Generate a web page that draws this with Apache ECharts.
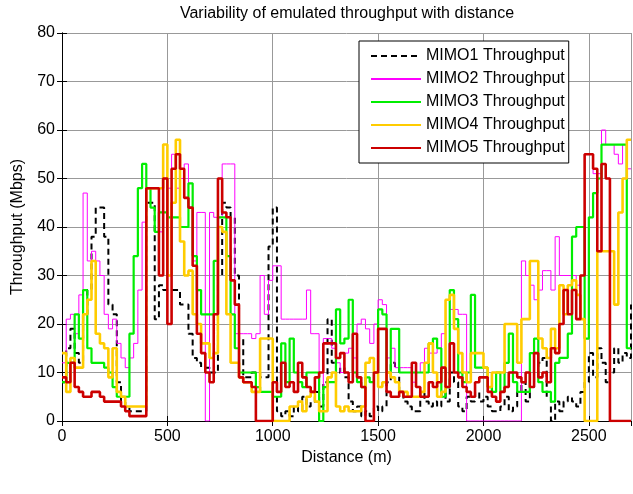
<!DOCTYPE html>
<html>
<head>
<meta charset="utf-8">
<script src="https://cdn.jsdelivr.net/npm/echarts@6/dist/echarts.min.js"></script>
<style>
html,body{margin:0;padding:0;background:#fff;}
#chart{width:633px;height:494px;}
</style>
</head>
<body>
<div id="chart"></div>
<script>
// Distance samples (m), every 20 m
var distance = [];
for (var d = 0; d <= 2700; d += 20) distance.push(d);

var seriesNames = ['MIMO1 Throughput', 'MIMO2 Throughput', 'MIMO3 Throughput', 'MIMO4 Throughput', 'MIMO5 Throughput'];
var xTicks = [0, 500, 1000, 1500, 2000, 2500];
var yTicks = [0, 10, 20, 30, 40, 50, 60, 70, 80];

var mimo1 = [
8,15,19,14,12, 22,27,38,44,44, 38,24,22,8,4, 3,2,2,2,2,
45,45,21,28,27, 27,27,27,24,24, 18,13,12,11,11, 10,10,30,45,44,
42,30,17,9,9, 10,10,9,9,36, 44,2,1,2,1, 3,2,5,3,4,
6,3,8,21,12, 10,11,9,4,2, 3,1,2,1,3, 2,3,8,12,11,
6,4,3,2,2, 6,4,3,4,3, 6,4,10,8,3, 2,5,4,6,4,
5,3,2,2,3, 5,2,3,6,8, 4,7,9,12,13, 5,0,4,2,4,
5,4,3,6,8, 14,9,15,12,8, 10,15,12,14,13, 24];

var mimo2 = [
12,21,22,18,26, 47,33,35,33,30, 22,19,21,16,13, 11,13,16,27,41,
48,48,48,39,50, 48,55,48,50,53, 49,33,43,43,0, 43,42,42,53,53,
53,18,18,18,18, 17,18,30,22,29, 32,32,21,21,21, 21,21,21,27,18,
18,0,17,17,15, 12,10,14,15,13, 20,21,19,16,20, 25,24,13,15,11,
11,11,11,8,10, 12,15,14,14,15, 18,25,23,23,22, 22,0,0,0,0,
0,0,0,0,0, 0,0,0,0,33, 30,28,25,27,31, 31,27,38,30,30,
30,30,28,30,55, 55,51,51,60,57, 57,55,53,57,52, 52];

var mimo3 = [
8,12,12,22,17, 27,15,12,12,12, 11,10,7,5,5, 5,18,34,48,53,
48,44,39,43,43, 42,42,42,40,40, 49,34,27,22,22, 22,33,42,42,34,
22,15,10,10,10, 10,7,6,6,6, 5,5,16,8,17, 10,8,7,10,10,
10,0,7,8,8, 23,16,17,25,10, 8,7,9,8,10, 23,22,10,19,19,
10,10,10,10,10, 10,10,16,17,15, 5,7,27,21,10, 8,10,26,11,11,
11,7,6,10,6, 12,18,8,6,6, 6,14,17,8,6, 6,4,12,13,13,
18,38,40,40,17, 42,47,50,57,57, 57,57,57,57,15, 15];

var mimo4 = [
14,6,13,11,11, 22,25,33,18,16, 15,9,15,6,5, 3,3,3,3,3,
48,48,48,48,57, 30,45,58,37,30, 31,22,20,16,16, 13,14,40,39,22,
12,12,9,8,8, 6,6,17,17,17, 0,0,0,0,3, 3,4,2,5,6,
4,2,2,9,10, 3,2,3,2,2, 2,3,12,13,10, 7,8,10,9,8,
6,6,5,5,5, 6,12,16,10,5, 6,25,26,19,14, 10,8,14,14,14,
11,7,10,10,10, 20,20,20,12,21, 21,33,33,17,15, 13,19,15,28,22,
28,29,26,21,0, 0,0,35,35,35, 35,24,43,50,58, 58];

var mimo5 = [
9,8,12,7,6, 5,5,6,6,5, 4,4,4,4,3, 2,1,1,1,1,
48,48,48,30,50, 20,52,55,52,46, 44,32,18,14,10, 8,22,50,43,42,
29,24,9,8,8, 7,0,0,0,0, 8,6,12,7,8, 6,12,9,7,6,
9,10,16,16,16, 13,14,10,8,18, 9,7,0,0,10, 19,19,6,5,5,
6,5,5,12,7, 5,5,8,7,8, 11,7,16,10,9, 7,6,5,8,9,
9,6,5,4,6, 7,10,10,9,8, 10,7,14,9,10, 8,15,14,20,27,
22,27,21,30,55, 55,52,35,53,50, 0,0,0,0,0, 0];

var values = [mimo1, mimo2, mimo3, mimo4, mimo5];
var colors = ['#000000', '#ff00ff', '#00ee00', '#ffcc00', '#cc0000'];
var widths = [2, 1, 2.2, 2.6, 2.6];
var types = [[6, 4], 'solid', 'solid', 'solid', 'solid'];

var FONT = '"Liberation Sans", Arial, sans-serif';

var series = values.map(function (arr, k) {
  return {
    name: seriesNames[k],
    type: 'line',
    step: 'end',
    symbol: 'none',
    showSymbol: false,
    xAxisIndex: 0,
    yAxisIndex: 0,
    data: distance.map(function (dd, i) { return [dd, arr[i]]; }),
    lineStyle: { color: colors[k], width: widths[k], type: types[k] },
    itemStyle: { color: colors[k] },
    z: 2 + k
  };
});

var chart = echarts.init(document.getElementById('chart'), null, { renderer: 'canvas' });
chart.setOption({
  animation: false,
  backgroundColor: '#ffffff',
  title: {
    text: 'Variability of emulated throughput with distance',
    left: 347, top: 6, textAlign: 'center', padding: 0,
    textStyle: { fontFamily: FONT, fontSize: 16, fontWeight: 'normal', color: '#000' }
  },
  legend: {
    orient: 'vertical',
    left: 359, top: 41,
    padding: [7, 4, 7, 11],
    itemWidth: 50, itemHeight: 14, itemGap: 7,
    backgroundColor: '#ffffff', borderColor: '#000', borderWidth: 1,
    itemStyle: { opacity: 0 },
    textStyle: { fontFamily: FONT, fontSize: 16, color: '#000' },
    data: seriesNames
  },
  grid: { left: 62, right: 2, top: 33, bottom: 73, containLabel: false },
  xAxis: [{
    type: 'value', min: xTicks[0], max: 2700, interval: xTicks[1] - xTicks[0],
    name: 'Distance (m)', nameLocation: 'middle', nameGap: 29,
    nameTextStyle: { fontFamily: FONT, fontSize: 16, color: '#000' },
    axisLine: { show: true, lineStyle: { color: '#000', width: 1 } },
    axisTick: { show: true, inside: true, length: 5, lineStyle: { color: '#000' } },
    axisLabel: { fontFamily: FONT, fontSize: 16, color: '#000', margin: 8, showMaxLabel: false,
      formatter: function (v) { return String(v); } },
    splitLine: { show: true, lineStyle: { color: '#999', width: 1 } }
  }, {
    type: 'value', position: 'top', min: 0, max: 2700, interval: 500,
    axisLine: { show: true, lineStyle: { color: '#000', width: 1 } },
    axisTick: { show: true, inside: true, length: 5, lineStyle: { color: '#000' } },
    axisLabel: { show: false }, splitLine: { show: false }
  }],
  yAxis: [{
    type: 'value', min: yTicks[0], max: yTicks[yTicks.length - 1], interval: yTicks[1] - yTicks[0],
    name: 'Throughput (Mbps)', nameLocation: 'middle', nameGap: 36,
    nameTextStyle: { fontFamily: FONT, fontSize: 16, color: '#000' },
    axisLine: { show: true, lineStyle: { color: '#000', width: 1 } },
    axisTick: { show: true, inside: true, length: 5, lineStyle: { color: '#000' } },
    axisLabel: { fontFamily: FONT, fontSize: 16, color: '#000', margin: 7,
      formatter: function (v) { return String(v); } },
    splitLine: { show: true, lineStyle: { color: '#999', width: 1 } }
  }, {
    type: 'value', position: 'right', min: 0, max: 80, interval: 10,
    axisLine: { show: true, lineStyle: { color: '#000', width: 1 } },
    axisTick: { show: true, inside: true, length: 5, lineStyle: { color: '#000' } },
    axisLabel: { show: false }, splitLine: { show: false }
  }],
  series: series
});
</script>
</body>
</html>
